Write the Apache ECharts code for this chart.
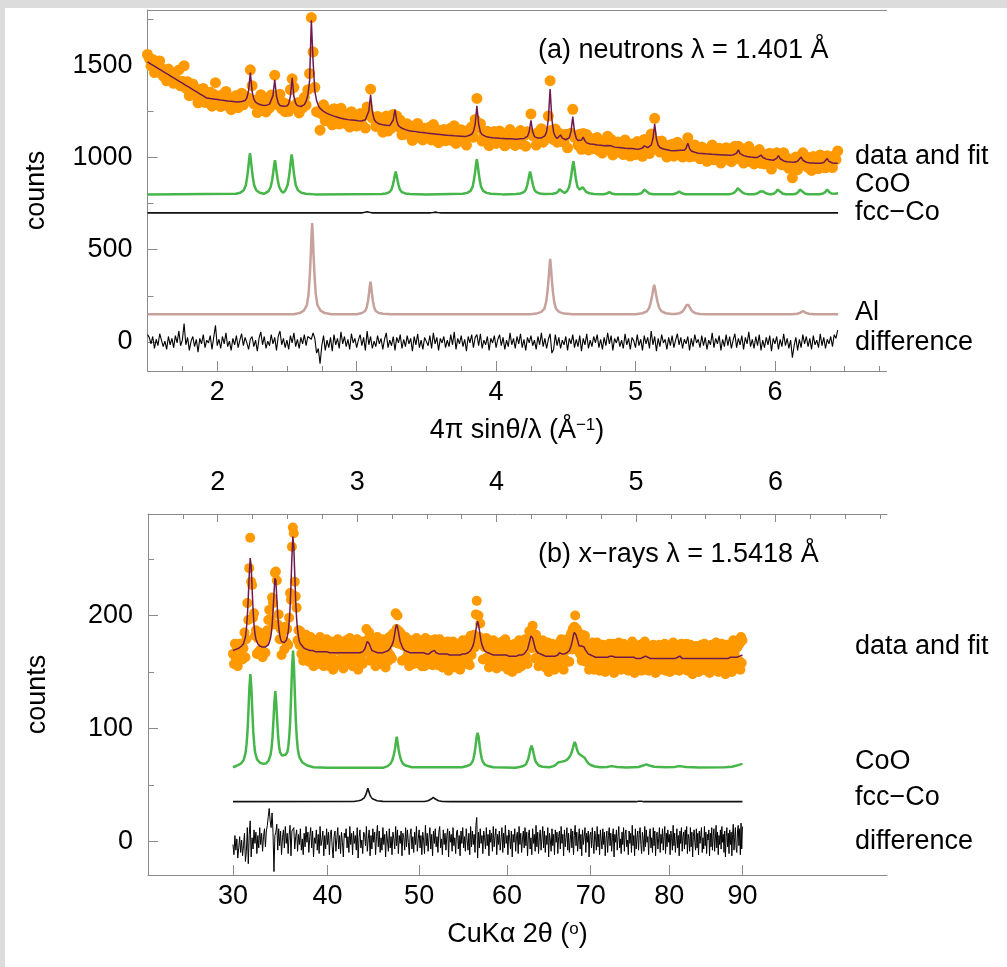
<!DOCTYPE html>
<html><head><meta charset="utf-8">
<script src="https://cdn.jsdelivr.net/npm/echarts@6/dist/echarts.min.js"></script>
<style>
html,body{margin:0;padding:0;background:#dcdcdc;}
#bg{position:absolute;left:5px;top:8px;width:1002px;height:959px;background:#fff;}
#chart{position:absolute;left:0;top:0;width:1007px;height:967px;}
</style></head>
<body><div id="bg"></div><div id="chart"></div>
<script>
// ---------- tick labels ----------
const qTicksMajor = [2, 3, 4, 5, 6];
const qTicksMinor = [1.75, 2.25, 2.5, 2.75, 3.25, 3.5, 3.75, 4.25, 4.5, 4.75, 5.25, 5.5, 5.75, 6.25, 6.5, 6.75];
const twoThetaTicks = [30, 40, 50, 60, 70, 80, 90];
const neutronYMajor = [0, 500, 1000, 1500];
const neutronYMinor = [250, 750, 1250, 1750];
const xrayYMajor = [0, 100, 200];
const xrayYMinor = [50, 150, 250];
const LAMBDA_X = 1.5418;

// ---------- (a) neutrons: Q grid, fit and difference ----------
const neutronQStart = 1.5, neutronQStep = 0.0125;
const neutronFit = [
1518,1512,1506,1501,1495,1489,1483,1478,1472,1466,
1460,1455,1449,1443,1437,1432,1426,1420,1414,1408,
1403,1397,1391,1385,1380,1374,1368,1362,1357,1351,
1345,1339,1334,1328,1322,1321,1319,1318,1317,1315,
1314,1313,1311,1310,1309,1308,1306,1305,1304,1303,
1302,1301,1300,1302,1303,1305,1309,1322,1362,1460,
1359,1316,1300,1293,1288,1285,1283,1282,1282,1284,
1289,1299,1335,1421,1333,1295,1282,1279,1277,1278,
1279,1290,1332,1431,1330,1294,1281,1276,1276,1279,
1286,1304,1337,1415,1743,1522,1360,1308,1281,1266,
1256,1250,1244,1239,1235,1231,1227,1224,1221,1218,
1216,1212,1210,1208,1207,1205,1205,1203,1202,1201,
1200,1199,1198,1198,1200,1204,1214,1252,1340,1248,
1207,1193,1187,1181,1178,1177,1175,1174,1173,1173,
1179,1203,1259,1199,1172,1162,1158,1154,1151,1147,
1145,1144,1142,1141,1140,1139,1137,1136,1135,1133,
1132,1131,1130,1129,1128,1127,1126,1125,1124,1123,
1122,1121,1120,1119,1119,1118,1117,1116,1116,1115,
1115,1114,1113,1117,1118,1121,1126,1140,1181,1280,
1181,1138,1124,1117,1114,1112,1109,1108,1107,1106,
1106,1105,1104,1104,1103,1103,1102,1102,1101,1101,
1100,1100,1099,1099,1101,1102,1103,1106,1114,1140,
1201,1139,1113,1107,1105,1105,1106,1108,1117,1140,
1209,1371,1208,1137,1114,1103,1107,1122,1105,1099,
1096,1097,1107,1141,1221,1139,1104,1092,1091,1094,
1110,1090,1079,1076,1073,1072,1071,1070,1068,1067,
1066,1064,1063,1064,1065,1071,1063,1059,1056,1055,
1054,1053,1052,1051,1050,1050,1049,1048,1048,1047,
1046,1046,1045,1047,1051,1063,1055,1053,1056,1067,
1101,1182,1101,1066,1054,1049,1046,1044,1042,1040,
1038,1037,1037,1036,1038,1042,1039,1037,1039,1050,
1077,1048,1035,1031,1028,1024,1023,1023,1022,1021,
1020,1019,1019,1018,1017,1017,1016,1016,1015,1015,
1014,1014,1013,1013,1012,1012,1014,1016,1023,1041,
1021,1013,1010,1007,1005,1004,1002,1001,1000,999,
1000,1003,1013,1001,995,991,990,988,987,985,
989,995,1010,993,985,981,978,977,976,975,
975,974,977,979,986,1002,985,977,974,971,
970,970,970,969,969,969,969,971,973,979,
994,979,972,970,968,968,970];
const neutronDiff = [
40,25,-10,30,-35,15,-20,45,10,-25,
5,-40,30,-15,20,-30,35,-5,60,-20,
10,100,-15,25,-45,5,30,-25,15,-55,
20,-10,40,-30,10,-5,35,-40,25,90,
-20,15,-35,30,-10,50,-25,5,-45,20,
-15,35,-30,10,45,-20,25,-5,-40,15,
30,-25,10,-50,20,55,-15,30,-35,5,
-20,40,-10,25,-45,30,60,-15,20,-30,
10,-40,35,-5,50,-25,15,-35,25,-10,
40,-20,30,40,15,50,20,-60,-35,-118,
-20,35,-45,10,-30,25,-50,40,-15,20,
-35,55,-10,30,-25,15,-40,45,-5,20,
-30,10,40,-20,25,-45,60,-15,30,-35,
5,-25,35,-10,20,-40,15,50,-30,10,
-20,30,-45,25,-5,40,-35,15,-25,35,
-10,20,-50,30,-15,45,-30,10,-40,25,
15,-20,35,-35,50,-10,25,-45,20,-5,
30,-30,10,-25,40,-15,55,-40,20,-10,
35,-25,15,-50,30,-5,40,-30,25,40,
-20,45,-35,10,-15,30,-45,20,-5,35,
-30,15,40,-20,25,-40,10,-25,50,-15,
20,-35,30,-10,45,-30,15,-45,25,-5,
35,-20,10,-40,30,-15,50,-25,20,-35,
15,45,-60,-40,40,-20,25,-35,10,-15,
30,-45,20,-10,40,-30,15,-25,35,-50,
20,-15,45,-35,10,-25,30,-5,40,-30,
15,-40,25,-20,50,-10,35,-45,20,-5,
30,-25,10,-35,45,-15,20,-40,25,5,
-30,40,-20,15,-45,35,-10,25,-35,60,
-15,30,-50,20,-25,40,-5,15,-40,25,
-20,35,-30,10,45,-15,25,-35,15,-10,
30,-45,20,-25,40,-5,15,-30,35,-20,
25,-40,10,-15,50,-30,20,-10,35,-45,
15,-25,40,-20,30,-35,10,45,-30,20,
-15,35,-40,25,-10,55,-25,15,-35,30,
-20,40,-45,10,-30,25,-15,35,-50,20,
-10,30,-40,15,-25,45,-20,20,-35,10,
-85,-20,25,-45,15,-30,40,-10,30,-25,
20,-40,35,-15,10,-30,45,-20,25,-35,
15,-10,30,-25,40,20,65];
// phase components [Q, counts]
const neutronCoO = [[1.5,800],[2.135,803],[2.165,809],[2.19,822],[2.205,849],[2.215,894],[2.223,945],[2.229,990],[2.235,1023],[2.241,990],[2.247,945],[2.255,894],[2.265,849],[2.28,822],[2.305,809],[2.335,803],
[2.344,807],[2.369,818],[2.384,841],[2.394,878],[2.402,920],[2.408,957],[2.414,985],[2.42,957],[2.426,920],[2.434,878],[2.444,841],[2.459,818],[2.474,809],
[2.489,822],[2.504,848],[2.514,891],[2.522,940],[2.528,984],[2.534,1016],[2.54,984],[2.546,940],[2.554,891],[2.564,848],[2.579,822],[2.604,809],[2.634,803],[2.7,800],
[3.18,802],[3.21,805],[3.235,812],[3.25,827],[3.26,852],[3.268,881],[3.274,905],[3.28,924],[3.286,905],[3.292,881],[3.3,852],[3.31,827],[3.325,812],[3.35,805],[3.38,802],[3.5,800],
[3.762,803],[3.792,808],[3.817,819],[3.832,842],[3.842,880],[3.85,924],[3.856,962],[3.862,991],[3.868,962],[3.874,924],[3.882,880],[3.892,842],[3.907,819],[3.932,808],[3.962,803],[4.05,800],
[4.144,802],[4.174,805],[4.199,812],[4.214,827],[4.224,852],[4.232,881],[4.238,905],[4.244,924],[4.25,905],[4.256,881],[4.264,852],[4.274,827],[4.289,812],[4.314,805],[4.344,802],
[4.406,803],[4.431,807],[4.446,816],[4.455,828],[4.461,836],[4.467,828],[4.476,816],[4.491,808],
[4.509,818],[4.524,840],[4.534,876],[4.542,917],[4.548,953],[4.554,980],[4.56,953],[4.566,917],[4.574,876],[4.584,840],[4.6,826],[4.611,831],[4.621,838],[4.631,828],[4.645,814],[4.67,806],[4.7,802],
[4.77,801],[4.795,805],[4.806,810],[4.812,812],[4.818,810],[4.829,805],[4.855,801],
[5.01,801],[5.038,805],[5.053,814],[5.062,826],[5.068,833],[5.074,826],[5.083,814],[5.098,805],[5.126,801],
[5.27,801],[5.293,806],[5.305,811],[5.313,815],[5.321,811],[5.333,806],[5.356,801],
[5.67,801],[5.693,804],[5.708,809],[5.723,820],[5.732,833],[5.738,842],[5.744,833],[5.753,820],[5.768,809],[5.783,804],[5.81,801],
[5.85,801],[5.875,806],[5.893,815],[5.905,823],[5.917,815],[5.935,806],[5.96,801],
[5.975,801],[5.994,805],[6.009,814],[6.018,826],[6.024,833],[6.03,826],[6.039,814],[6.054,805],[6.075,801],
[6.135,801],[6.154,805],[6.169,814],[6.178,826],[6.184,833],[6.19,826],[6.199,814],[6.214,805],[6.235,801],
[6.32,801],[6.345,805],[6.36,812],[6.369,822],[6.375,827],[6.381,822],[6.39,812],[6.405,805],[6.43,803],[6.453,806]];
const neutronFccCo = [[1.5,700],[3.04,700],[3.06,703],[3.075,706],[3.09,703],[3.11,700],[3.53,700],[3.55,702],[3.565,704],[3.58,702],[3.6,700],[6.453,700]];
const neutronAl = [[1.5,150],[2.55,150],[2.591,157],[2.621,170],[2.643,200],[2.655,259],[2.664,358],[2.671,472],[2.676,571],[2.681,645],[2.686,571],[2.691,472],[2.698,358],[2.707,259],[2.719,200],[2.741,170],[2.771,157],[2.82,151],
[3.0,150],[3.009,153],[3.039,157],[3.061,168],[3.073,189],[3.082,225],[3.089,266],[3.094,301],[3.099,327],[3.104,301],[3.109,266],[3.116,225],[3.125,189],[3.137,168],[3.159,157],[3.189,153],[3.25,150],
[4.25,150],[4.288,154],[4.322,162],[4.346,180],[4.359,216],[4.369,276],[4.377,345],[4.3825,405],[4.388,450],[4.3935,405],[4.399,345],[4.407,276],[4.417,216],[4.43,180],[4.454,162],[4.488,154],[4.55,150],
[5.0,150],[5.008,152],[5.05,156],[5.081,166],[5.098,185],[5.11,217],[5.12,254],[5.127,286],[5.134,310],[5.141,286],[5.148,254],[5.158,217],[5.17,185],[5.187,166],[5.218,156],[5.26,152],
[5.283,152],[5.316,156],[5.334,163],[5.3475,175],[5.358,189],[5.3655,201],[5.373,210],[5.3805,201],[5.388,189],[5.3985,175],[5.412,163],[5.43,156],[5.463,152],[5.52,150],
[6.12,150],[6.16,153],[6.18,158],[6.192,163],[6.201,168],[6.21,163],[6.222,158],[6.242,153],[6.28,150],[6.453,150]];

// ---------- (b) x-rays: 2theta grid, fit and difference ----------
const xray2ThetaStart = 30, xray2ThetaStep = 0.1;
const xrayFit = [
169,169,170,170,170,170,171,171,172,173,
174,175,178,181,188,199,216,236,251,244,
224,205,192,184,179,177,175,174,173,173,
172,172,172,172,172,172,173,174,176,179,
183,191,203,219,233,231,216,200,190,183,
179,177,176,176,176,177,178,181,185,193,
206,227,252,270,261,237,213,197,187,181,
177,175,174,173,172,171,170,170,170,169,
169,169,169,169,169,169,168,168,168,168,
168,168,168,168,168,168,168,168,168,168,
168,168,167,167,167,167,167,167,167,167,
167,167,167,167,167,167,167,167,167,167,
167,167,167,167,167,167,167,167,167,167,
167,167,167,167,167,167,168,168,168,169,
170,172,175,177,177,175,173,171,169,169,
168,168,167,167,167,167,167,167,167,167,
167,167,168,168,168,168,169,170,171,172,
174,176,179,184,189,192,190,186,181,177,
175,173,171,170,169,169,168,168,168,167,
167,167,167,167,167,167,167,167,167,167,
167,167,167,167,167,167,166,166,166,166,
166,166,166,167,168,169,169,169,168,167,
166,166,166,166,166,166,166,166,166,166,
166,166,166,165,165,165,165,165,165,165,
165,165,165,165,165,165,165,165,166,166,
166,166,166,167,167,167,168,168,169,170,
172,174,177,182,187,192,195,192,187,182,
177,174,172,170,169,168,168,167,167,167,
166,166,166,166,165,165,165,165,165,165,
165,165,165,165,165,165,165,165,165,165,
164,164,164,164,164,164,164,164,164,164,
164,164,164,164,165,165,165,165,165,166,
166,167,168,169,170,173,176,179,182,183,
180,177,174,171,169,168,167,166,166,166,
165,165,165,165,164,164,164,164,164,164,
164,164,164,164,164,164,164,164,164,165,
165,166,167,167,166,166,165,165,166,166,
166,167,167,168,169,171,173,176,179,183,
185,186,183,180,178,175,173,173,173,173,
173,173,172,170,169,168,167,166,166,165,
165,164,164,164,163,163,163,163,163,163,
163,163,163,163,163,163,163,163,163,163,
163,163,163,163,164,164,165,164,164,163,
163,163,163,163,163,163,163,163,163,163,
163,163,163,163,163,163,163,163,163,163,
163,163,163,163,163,162,162,162,162,162,
162,162,162,162,162,162,163,163,164,164,
164,164,163,163,162,162,162,162,162,162,
162,162,162,162,162,162,162,162,162,162,
162,162,162,162,162,162,162,162,162,162,
162,162,162,162,162,162,162,162,162,162,
163,163,163,164,164,163,163,162,162,162,
162,162,162,162,162,162,162,162,162,162,
162,162,162,162,162,162,162,162,162,162,
162,162,162,162,162,162,162,162,162,162,
162,162,162,162,162,162,162,162,162,162,
162,162,162,162,162,162,162,162,162,162,
162,162,162,162,162,162,162,162,162,162,
162,162,162,163,163,163,163,163,163,163,
163,163,163,163,164,164,164,164,165,165,
165];
const xrayDiff = [
-3,-12,5,-8,2,-15,-6,4,-10,1,-13,-4,7,-18,-9,12,-20,6,18,-14,
3,-7,10,-2,8,-11,5,-6,12,-3,7,-9,4,11,-5,9,14,22,29,18,
12,25,8,-27,5,8,15,-8,11,-4,9,-12,3,10,-6,13,-2,7,-11,5,
14,-13,9,8,12,-7,4,10,-9,6,-3,11,-8,2,-12,7,-5,13,-1,8,
-10,4,12,-6,9,-14,3,-2,10,-8,6,-11,13,-4,1,9,-13,5,-7,11,
-3,8,-12,6,10,-5,-15,4,9,-9,2,12,-7,5,-11,8,-1,-14,7,3,
11,-6,4,-10,13,-3,7,-12,9,-2,5,-8,12,-15,3,10,-6,1,-11,8,
6,-4,13,-9,2,10,-13,5,-7,11,-1,8,-12,4,14,-5,9,-10,3,-8,
12,-3,6,-14,9,1,-9,11,-6,4,-12,8,2,-7,13,-4,10,-11,5,-2,
9,-13,7,3,-8,12,-5,10,-1,-12,6,11,-7,4,-10,8,-3,13,-9,2,
10,-6,5,-12,8,1,-11,14,-4,7,-9,3,12,-7,6,-13,9,-2,11,-5,
4,-10,8,13,-6,2,-12,10,-3,7,-8,5,11,-14,9,-1,6,-9,12,-4,
3,-11,8,10,-7,5,-13,9,-2,12,-6,4,-9,11,1,-8,7,-12,13,-5,
9,-3,6,-10,14,21,-15,8,-6,11,-2,5,-11,9,3,-7,12,-4,6,-13,
10,-1,7,-9,13,-5,4,11,-12,6,-3,9,-8,2,12,-10,7,-6,14,-2,
5,-12,10,3,-7,9,-14,6,-1,11,-9,4,8,-11,13,-3,7,-10,2,9,
-6,12,-4,8,-13,5,10,-7,3,-12,11,-2,6,-9,14,-5,8,-11,4,10,
-8,2,13,-6,9,-10,5,-3,12,-14,7,1,-9,11,-4,6,-12,10,-1,8,
-11,4,9,-7,13,-2,6,-13,10,-5,3,12,-8,7,-10,1,11,-6,9,-12,
5,14,-4,8,-9,2,11,-7,6,-13,10,-3,4,12,-10,7,-1,9,-14,5,
8,-6,12,-2,-11,9,4,-8,13,-5,6,-12,10,1,-7,11,-3,8,-13,2,
9,-10,5,12,-4,7,-9,3,11,-14,6,-1,10,-8,4,13,-6,2,-11,8,
-3,12,-9,6,10,-5,1,-12,9,-2,7,-10,14,-4,5,-13,11,-7,3,9,
-8,6,12,-3,-11,8,2,-9,13,-5,10,-1,4,-12,7,11,-6,3,-10,12,
-4,9,-13,5,8,-7,2,12,-10,6,-2,11,-8,4,13,-11,7,-5,10,-1,
6,-12,9,3,-8,14,-4,7,-10,1,11,-6,5,-13,9,-2,12,-9,4,8,
-7,10,-3,13,-11,6,2,-9,12,-5,8,-14,4,10,-1,-8,11,-6,7,-12,
9,-2,5,12,-10,3,-7,13,-4,8,-11,6,1,10,-13,7,-5,12,-8,4,
11,-9,2,14,-6,8,-12,5,-3,10,-7,13,-1,6,-10,9,-14,4,12,-5,
7,-11,10,-3,8,-13,6,15,-8,3,12,-6,-10,9,14,-4,11,-12,16,-7,
13];
// phase components [2theta, counts]
const xrayCoO = [[30,65.5],[30.32,66.6],[30.82,68.7],[31.12,72],[31.32,78.5],[31.42,86],[31.52,97.5],[31.62,116],[31.72,136.5],[31.82,148],[31.92,136.5],[32.02,116],[32.12,97.5],[32.22,86],[32.32,78.5],[32.52,72.5],[32.82,69.5],[33.2,68.5],
[33.44,68.8],[33.74,71.5],[33.94,76.5],[34.04,82],[34.14,91.5],[34.24,106],[34.34,122.5],[34.44,133],[34.54,123],[34.64,107],[34.74,93],[34.84,84],[34.94,79],[35.14,76],[35.3,75],
[35.52,76.5],[35.72,79],[35.82,84],[35.92,93],[36.02,107],[36.12,130],[36.22,155],[36.32,169],[36.42,154],[36.52,128.5],[36.62,105.5],[36.72,91.3],[36.82,82],[36.92,77],[37.02,74],[37.32,69.7],[37.82,67],[38.5,65.5],[40,65],
[46,65],[46.52,66.5],[46.82,68.5],[47.02,71.5],[47.12,74],[47.22,77.5],[47.32,81.5],[47.42,87.5],[47.52,92.6],[47.62,87.5],[47.72,81.5],[47.82,77.5],[47.92,74],[48.02,71.5],[48.22,68.5],[48.52,67],[49.2,65.5],
[54.8,65.5],[55.4,66.6],[55.76,67.8],[56.0,70.3],[56.12,73],[56.24,77.4],[56.36,84.2],[56.48,92],[56.6,96],[56.72,92],[56.84,84.2],[56.96,77.4],[57.08,73],[57.2,70.3],[57.44,67.8],[57.8,66.6],[58.4,65.5],[61,65],
[61.57,66],[61.97,66.8],[62.22,68.3],[62.35,70],[62.48,72.8],[62.61,77.2],[62.74,82],[62.87,84.6],[63.0,82],[63.13,77.2],[63.26,72.8],[63.39,70],[63.52,68.3],[63.77,66.8],[64.17,66],[65,65.5],
[65.5,66.5],[65.8,68],[66.05,69.8],[66.25,70.4],[66.5,70.5],[66.8,71],[67.1,72],[67.35,74],[67.55,76.5],[67.7,79.5],[67.82,82.5],[67.94,86],[68.05,88],[68.16,86],[68.28,82.5],[68.4,79.5],[68.55,77.5],[68.7,76.5],[68.85,76],[69.06,75.4],[69.25,74],[69.45,71.5],[69.7,69],[70.0,67.5],[70.5,66.2],[71.2,65.6],
[72.0,65.8],[72.4,66.3],[72.6,66.6],[72.8,66.3],[73.3,65.7],[74.5,65.3],[76.0,65.8],[76.6,67],[77.0,68],[77.4,67],[78.0,66],[79.5,65.5],[80.7,65.8],[81.1,66.3],[81.35,66.6],[81.6,66.3],[82.2,65.7],[84,65.3],[87.5,65.5],[88.5,66],[89.2,67],[89.6,67.8],[90,68.5]];
const xrayFccCo = [[30,35],[42.8,35.2],[43.36,35.8],[43.66,36.5],[43.86,37.5],[43.96,38.4],[44.06,39.7],[44.16,41.6],[44.26,44.2],[44.36,46.8],[44.46,44.2],[44.56,41.6],[44.66,39.7],[44.76,38.4],[44.86,37.5],[45.06,36.5],[45.36,35.8],[46,35.3],
[50.6,35.2],[51.0,35.8],[51.2,36.4],[51.35,37.3],[51.47,38.2],[51.58,38.8],[51.69,38.2],[51.81,37.3],[51.96,36.4],[52.16,35.8],[52.6,35.2],[53.5,35],[75.7,35],[76.0,35.4],[76.2,35.7],[76.4,35.4],[76.7,35],[90,35]];

// ---------- build ----------
function qFrom2Theta(tt) { return 4 * Math.PI * Math.sin(tt / 2 * Math.PI / 180) / LAMBDA_X; }
const neutronQ = neutronFit.map((_, i) => neutronQStart + i * neutronQStep);
const neutronFitSeries = neutronFit.map((v, i) => [neutronQ[i], v]);
const neutronDataSeries = neutronFit.map((v, i) => [neutronQ[i], v + neutronDiff[i]]);
const neutronDiffSeries = neutronDiff.map((v, i) => [neutronQ[i], v]);
const xrayQ = xrayFit.map((_, j) => qFrom2Theta(xray2ThetaStart + j * xray2ThetaStep));
const xrayFitSeries = xrayFit.map((v, j) => [xrayQ[j], v]);
const xrayDataSeries = xrayFit.map((v, j) => [xrayQ[j], v + xrayDiff[j]]);
const xrayDiffSeries = xrayDiff.map((v, j) => [xrayQ[j], v]);
const xrayCoOSeries = xrayCoO.map(p => [qFrom2Theta(p[0]), p[1]]);
const xrayFccSeries = xrayFccCo.map(p => [qFrom2Theta(p[0]), p[1]]);
const twoThetaQ = twoThetaTicks.map(qFrom2Theta);

const FONT = '"Liberation Sans", Arial, Helvetica, sans-serif';
const FS = 27;
const AX = '#8a8a8a';
const ORANGE = '#ff9900', PURPLE = '#6e1a4f', GREEN = '#46b64a', ROSY = '#c7a19c';
const QMIN = 1.5, QMAX = 6.8;
const plain = v => String(v);

function xAx(grid, pos, extra) {
  return Object.assign({
    gridIndex: grid, type: 'value', position: pos, min: QMIN, max: QMAX,
    axisLine: { show: true, onZero: false, lineStyle: { color: AX, width: 1 } },
    axisTick: { show: false }, axisLabel: { show: false }, splitLine: { show: false }
  }, extra);
}
function yAx(grid, min, max, extra) {
  return Object.assign({
    gridIndex: grid, type: 'value', position: 'left', min: min, max: max,
    axisLine: { show: true, onZero: false, lineStyle: { color: AX, width: 1 } },
    axisTick: { show: false }, axisLabel: { show: false }, splitLine: { show: false }
  }, extra);
}
const lblStyle = { fontSize: FS, color: '#000', fontFamily: FONT };
const nameStyle = { fontSize: FS, color: '#000', fontFamily: FONT,
  rich: { sup: { fontSize: 17, color: '#000', fontFamily: FONT, verticalAlign: 'top' } } };

const option = {
  animation: false,
  textStyle: { fontFamily: FONT },
  grid: [
    { left: 147.5, top: 10, width: 739, height: 361, containLabel: false },
    { left: 148, top: 514, width: 739, height: 361, containLabel: false }
  ],
  xAxis: [
    xAx(0, 'bottom', {
      axisTick: { show: true, inside: true, length: 10, customValues: qTicksMajor, lineStyle: { color: AX } },
      axisLabel: Object.assign({ show: true, margin: 8, customValues: qTicksMajor, formatter: plain }, lblStyle),
      name: '4π sinθ/λ (Å{sup|−1})', nameLocation: 'middle', nameGap: 46, nameTextStyle: nameStyle
    }),
    xAx(0, 'bottom', { axisLine: { show: false, onZero: false },
      axisTick: { show: true, inside: true, length: 5, customValues: qTicksMinor, lineStyle: { color: AX } } }),
    xAx(0, 'top', {}),
    xAx(1, 'bottom', {
      axisTick: { show: true, inside: true, length: 10, customValues: twoThetaQ, lineStyle: { color: AX } },
      axisLabel: Object.assign({ show: true, margin: 8, customValues: twoThetaQ,
        formatter: function (v) { let k = 0, d = 1e9; twoThetaQ.forEach((q, i) => { if (Math.abs(q - v) < d) { d = Math.abs(q - v); k = i; } }); return String(twoThetaTicks[k]); } }, lblStyle),
      name: 'CuKα 2θ ({sup|o})', nameLocation: 'middle', nameGap: 46, nameTextStyle: nameStyle
    }),
    xAx(1, 'top', {
      axisTick: { show: true, inside: true, length: 8, customValues: qTicksMajor, lineStyle: { color: AX } },
      axisLabel: Object.assign({ show: true, margin: 18, customValues: qTicksMajor, formatter: plain }, lblStyle)
    }),
    xAx(1, 'top', { axisLine: { show: false, onZero: false },
      axisTick: { show: true, inside: true, length: 5, customValues: qTicksMinor, lineStyle: { color: AX } } })
  ],
  yAxis: [
    yAx(0, -157, 1799, {
      axisTick: { show: true, inside: true, length: 10, customValues: neutronYMajor, lineStyle: { color: AX } },
      axisLabel: Object.assign({ show: true, margin: 15, customValues: neutronYMajor, formatter: plain }, lblStyle),
      name: 'counts', nameLocation: 'middle', nameGap: 97, nameTextStyle: { fontSize: FS, color: '#000', fontFamily: FONT }
    }),
    yAx(0, -157, 1799, { axisLine: { show: false, onZero: false },
      axisTick: { show: true, inside: true, length: 6, customValues: neutronYMinor, lineStyle: { color: AX } } }),
    yAx(1, -30, 290, {
      axisTick: { show: true, inside: true, length: 10, customValues: xrayYMajor, lineStyle: { color: AX } },
      axisLabel: Object.assign({ show: true, margin: 15, customValues: xrayYMajor, formatter: plain }, lblStyle),
      name: 'counts', nameLocation: 'middle', nameGap: 97, nameTextStyle: { fontSize: FS, color: '#000', fontFamily: FONT }
    }),
    yAx(1, -30, 290, { axisLine: { show: false, onZero: false },
      axisTick: { show: true, inside: true, length: 6, customValues: xrayYMinor, lineStyle: { color: AX } } })
  ],
  series: [
    { name: 'neutron data', type: 'scatter', xAxisIndex: 0, yAxisIndex: 0, data: neutronDataSeries,
      symbol: 'circle', symbolSize: 11, itemStyle: { color: ORANGE, opacity: 1 }, z: 2, silent: true },
    { name: 'neutron fit', type: 'line', xAxisIndex: 0, yAxisIndex: 0, data: neutronFitSeries,
      showSymbol: false, symbol: 'none', lineStyle: { color: PURPLE, width: 1.5 }, z: 4, silent: true },
    { name: 'neutron CoO', type: 'line', xAxisIndex: 0, yAxisIndex: 0, data: neutronCoO,
      showSymbol: false, symbol: 'none', lineStyle: { color: GREEN, width: 2.5 }, z: 3, silent: true },
    { name: 'neutron fcc-Co', type: 'line', xAxisIndex: 0, yAxisIndex: 0, data: neutronFccCo,
      showSymbol: false, symbol: 'none', lineStyle: { color: '#111', width: 1.6 }, z: 3, silent: true },
    { name: 'neutron Al', type: 'line', xAxisIndex: 0, yAxisIndex: 0, data: neutronAl,
      showSymbol: false, symbol: 'none', lineStyle: { color: ROSY, width: 2.5 }, z: 3, silent: true },
    { name: 'neutron difference', type: 'line', xAxisIndex: 0, yAxisIndex: 0, data: neutronDiffSeries,
      showSymbol: false, symbol: 'none', lineStyle: { color: '#000', width: 1.1 }, z: 3, silent: true },

    { name: 'xray data', type: 'scatter', xAxisIndex: 3, yAxisIndex: 2, data: xrayDataSeries,
      symbol: 'circle', symbolSize: 10, itemStyle: { color: ORANGE, opacity: 1 }, z: 2, silent: true },
    { name: 'xray fit', type: 'line', xAxisIndex: 3, yAxisIndex: 2, data: xrayFitSeries,
      showSymbol: false, symbol: 'none', lineStyle: { color: PURPLE, width: 1.5 }, z: 4, silent: true },
    { name: 'xray CoO', type: 'line', xAxisIndex: 3, yAxisIndex: 2, data: xrayCoOSeries,
      showSymbol: false, symbol: 'none', lineStyle: { color: GREEN, width: 2.5 }, z: 3, silent: true },
    { name: 'xray fcc-Co', type: 'line', xAxisIndex: 3, yAxisIndex: 2, data: xrayFccSeries,
      showSymbol: false, symbol: 'none', lineStyle: { color: '#111', width: 1.6 }, z: 3, silent: true },
    { name: 'xray difference', type: 'line', xAxisIndex: 3, yAxisIndex: 2, data: xrayDiffSeries,
      showSymbol: false, symbol: 'none', lineStyle: { color: '#000', width: 1.0 }, z: 3, silent: true }
  ],
  graphic: [
    ['(a) neutrons λ = 1.401 Å', 538, 51],
    ['data and fit', 855, 156.5], ['CoO', 855, 184.5], ['fcc−Co', 855, 213], ['Al', 855, 313], ['difference', 855, 343],
    ['(b) x−rays λ = 1.5418 Å', 538, 554.5],
    ['data and fit', 855, 646.5], ['CoO', 855, 761.5], ['fcc−Co', 855, 798], ['difference', 855, 841.5]
  ].map(t => ({ type: 'text', x: t[1], y: t[2], silent: true,
    style: { text: t[0], font: FS + 'px ' + FONT, fill: '#000', align: 'left', verticalAlign: 'middle',
      textAlign: 'left', textVerticalAlign: 'middle' } }))
};
const chart = echarts.init(document.getElementById('chart'), null, { renderer: 'canvas' });
chart.setOption(option);
</script>
</body></html>
